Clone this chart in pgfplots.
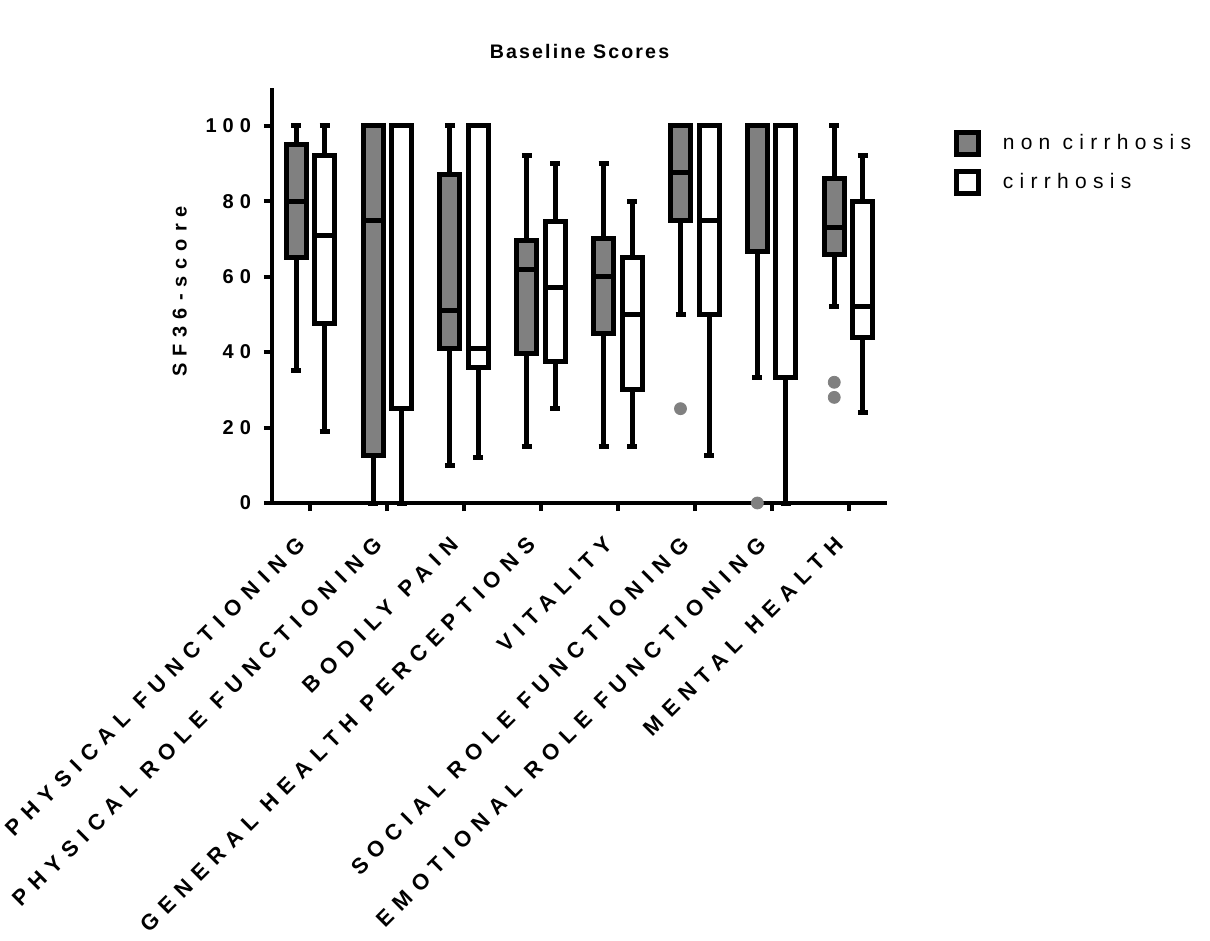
\documentclass[border=0pt]{standalone}
\usepackage{fontspec}
\setmainfont{Liberation Sans}
\newfontfamily\spc[LetterSpace=36]{Liberation Sans}
\newfontfamily\spy[LetterSpace=35]{Liberation Sans}
\newfontfamily\spn[LetterSpace=30]{Liberation Sans}
\newfontfamily\spt[LetterSpace=11]{Liberation Sans}
\usepackage{pgfplots}
\pgfplotsset{compat=1.18}
\usepgfplotslibrary{statistics}
\pgfplotsset{
  bx/.style={line width=2.5pt, draw=black, solid,
    boxplot/draw direction=y,
    boxplot/box extend=0.26, boxplot/whisker extend=0.13,
    boxplot/every box/.style={draw=black, fill=#1, line width=2.5pt},
    boxplot/every whisker/.style={draw=black, line width=2.5pt},
    boxplot/every median/.style={draw=black, line width=2.5pt}},
}
\begin{document}
\begin{tikzpicture}
\useasboundingbox (-136pt,-219pt) rectangle (469pt,251.5pt);
\begin{axis}[
  at={(0,0)}, anchor=south west,
  scale only axis, width=307.5pt, height=207.5pt,
  xmin=-0.5, xmax=7.5, ymin=0, ymax=110,
  axis x line=bottom, axis y line=left,
  axis line style={line width=2pt, -},
  tick style={line width=2pt, black}, major tick length=4pt, tick align=outside,
  ytick={0,20,40,60,80,100},
  xtick={0,1,2,3,4,5,6,7},
  xticklabels={PHYSICAL FUNCTIONING, PHYSICAL ROLE FUNCTIONING, BODILY PAIN, GENERAL HEALTH PERCEPTIONS, VITALITY, SOCIAL ROLE FUNCTIONING, EMOTIONAL ROLE FUNCTIONING, MENTAL HEALTH},
  xticklabel style={xshift=-7.5pt, yshift=-9pt, rotate=45, anchor=north east, font=\spc\bfseries\fontsize{11pt}{13pt}\selectfont, inner sep=2pt},
  yticklabel style={font=\spn\bfseries\fontsize{10pt}{12pt}\selectfont, xshift=-3pt},
  /pgf/number format/assume math mode=true,
  ylabel={SF36-score},
  ylabel style={at={(axis description cs:-0.15,0.51)}, anchor=center, font=\spy\bfseries\fontsize{10pt}{12pt}\selectfont},
  title={Baseline Scores},
  title style={at={(0.5,1)}, anchor=south, yshift=5pt, font=\spt\bfseries\fontsize{9.8pt}{12pt}\selectfont},
  clip=false,
  legend style={at={(axis description cs:1.108,0.9)}, anchor=north west, draw=none, fill=none,
    font=\spn\fontsize{10.5pt}{12pt}\selectfont, row sep=6pt, inner sep=0pt,
    nodes={inner xsep=5pt}},
  legend cell align=left,
]
\addlegendimage{legend image code/.code={\draw[line width=2.5pt, draw=black, fill=gray] (0pt,-5.5pt) rectangle (11pt,5.5pt);}}
\addlegendentry{\hspace{6pt}non cirrhosis}
\addlegendimage{legend image code/.code={\draw[line width=2.5pt, draw=black, fill=white] (0pt,-5.5pt) rectangle (11pt,5.5pt);}}
\addlegendentry{\hspace{6pt}cirrhosis}
% non cirrhosis (grey)
\addplot[bx=gray, forget plot, boxplot prepared={draw position=-0.186, lower whisker=35, lower quartile=65, median=80, upper quartile=95, upper whisker=100}] coordinates {};
\addplot[bx=gray, forget plot, boxplot prepared={draw position=0.814, lower whisker=0, lower quartile=12.5, median=75, upper quartile=100, upper whisker=100}] coordinates {};
\addplot[bx=gray, forget plot, boxplot prepared={draw position=1.814, lower whisker=10, lower quartile=41, median=51, upper quartile=87, upper whisker=100}] coordinates {};
\addplot[bx=gray, forget plot, boxplot prepared={draw position=2.814, lower whisker=15, lower quartile=39.5, median=62, upper quartile=69.5, upper whisker=92}] coordinates {};
\addplot[bx=gray, forget plot, boxplot prepared={draw position=3.814, lower whisker=15, lower quartile=45, median=60, upper quartile=70, upper whisker=90}] coordinates {};
\addplot[bx=gray, forget plot, boxplot prepared={draw position=4.814, lower whisker=50, lower quartile=75, median=87.5, upper quartile=100, upper whisker=100}] coordinates {};
\addplot[bx=gray, forget plot, boxplot prepared={draw position=5.814, lower whisker=33.3, lower quartile=66.7, median=100, upper quartile=100, upper whisker=100}] coordinates {};
\addplot[bx=gray, forget plot, boxplot prepared={draw position=6.814, lower whisker=52, lower quartile=66, median=73, upper quartile=86, upper whisker=100}] coordinates {};
% cirrhosis (white)
\addplot[bx=white, forget plot, boxplot prepared={draw position=0.186, lower whisker=19, lower quartile=47.5, median=71, upper quartile=92, upper whisker=100}] coordinates {};
\addplot[bx=white, forget plot, boxplot prepared={draw position=1.186, lower whisker=0, lower quartile=25, median=100, upper quartile=100, upper whisker=100}] coordinates {};
\addplot[bx=white, forget plot, boxplot prepared={draw position=2.186, lower whisker=12, lower quartile=36, median=41, upper quartile=100, upper whisker=100}] coordinates {};
\addplot[bx=white, forget plot, boxplot prepared={draw position=3.186, lower whisker=25, lower quartile=37.5, median=57, upper quartile=74.5, upper whisker=90}] coordinates {};
\addplot[bx=white, forget plot, boxplot prepared={draw position=4.186, lower whisker=15, lower quartile=30, median=50, upper quartile=65, upper whisker=80}] coordinates {};
\addplot[bx=white, forget plot, boxplot prepared={draw position=5.186, lower whisker=12.5, lower quartile=50, median=75, upper quartile=100, upper whisker=100}] coordinates {};
\addplot[bx=white, forget plot, boxplot prepared={draw position=6.186, lower whisker=0, lower quartile=33.3, median=100, upper quartile=100, upper whisker=100}] coordinates {};
\addplot[bx=white, forget plot, boxplot prepared={draw position=7.186, lower whisker=24, lower quartile=44, median=52, upper quartile=80, upper whisker=92}] coordinates {};
% outliers
\addplot[only marks, mark=*, mark size=3pt, color=gray, forget plot] coordinates {(4.814,25) (5.814,0) (6.814,32) (6.814,28)};
\end{axis}
\end{tikzpicture}
\end{document}
